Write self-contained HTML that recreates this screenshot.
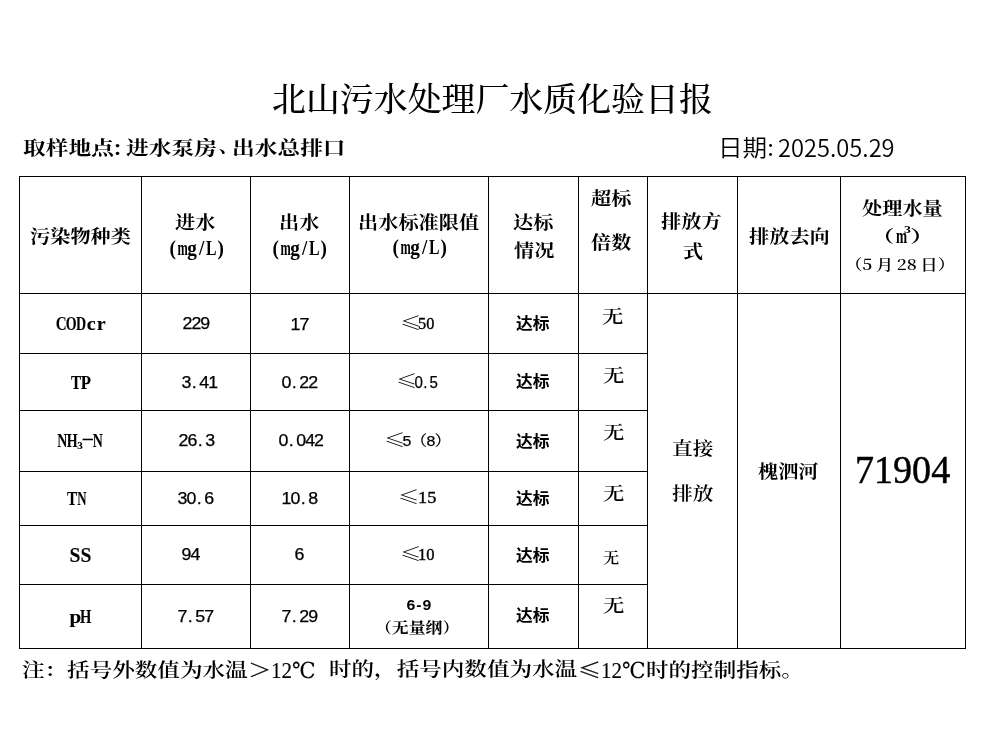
<!DOCTYPE html>
<html lang="zh-CN"><head><meta charset="utf-8"><title>北山污水处理厂水质化验日报</title><style>
*{margin:0;padding:0;box-sizing:border-box}
html,body{width:986px;height:735px;background:#fff;overflow:hidden}
body{position:relative;color:#000}
.t{position:absolute;white-space:nowrap;line-height:1;transform-origin:0 0}
.v{position:absolute;width:1px;background:#000}
.h{position:absolute;height:1px;background:#000}
sub{font-size:0.55em;vertical-align:-0.2em;line-height:0}
.dash{position:relative;top:-0.17em}
.mc{display:inline-flex;justify-content:center;width:0.5em}
.sq{display:inline-block;transform-origin:50% 50%}
.mp{display:inline-flex;justify-content:flex-start;width:0.5em;padding-left:0.05em}
</style></head><body>
<div class="v" style="left:19px;top:176px;height:473px"></div>
<div class="v" style="left:141px;top:176px;height:473px"></div>
<div class="v" style="left:250px;top:176px;height:473px"></div>
<div class="v" style="left:349px;top:176px;height:473px"></div>
<div class="v" style="left:488px;top:176px;height:473px"></div>
<div class="v" style="left:578px;top:176px;height:473px"></div>
<div class="v" style="left:647px;top:176px;height:473px"></div>
<div class="v" style="left:737px;top:176px;height:473px"></div>
<div class="v" style="left:840px;top:176px;height:473px"></div>
<div class="v" style="left:965px;top:176px;height:473px"></div>
<div class="h" style="left:19px;top:176px;width:947px"></div>
<div class="h" style="left:19px;top:293px;width:947px"></div>
<div class="h" style="left:19px;top:353px;width:629px"></div>
<div class="h" style="left:19px;top:410px;width:629px"></div>
<div class="h" style="left:19px;top:471px;width:629px"></div>
<div class="h" style="left:19px;top:525px;width:629px"></div>
<div class="h" style="left:19px;top:584px;width:629px"></div>
<div class="h" style="left:19px;top:648px;width:947px"></div>
<div class="t" style="left:272.00px;top:79.80px;font-family:'Noto Serif CJK SC', serif;font-weight:500;font-size:33.04px;transform:scale(1.0265,1.0000);">北山污水处理厂水质化验日报</div>
<div class="t" style="left:22.80px;top:138.35px;font-family:'Noto Serif CJK SC', serif;font-weight:700;font-size:19.41px;transform:scale(1.1704,1.0000);">取样地点:</div>
<div class="t" style="left:125.50px;top:138.35px;font-family:'Noto Serif CJK SC', serif;font-weight:700;font-size:19.41px;transform:scale(1.1704,1.0000);">进水泵房</div>
<div class="t" style="left:218.80px;top:135.06px;font-family:'Noto Serif CJK SC', serif;font-weight:700;font-size:19.40px;">、</div>
<div class="t" style="left:232.00px;top:138.35px;font-family:'Noto Serif CJK SC', serif;font-weight:700;font-size:19.41px;transform:scale(1.1704,1.0000);">出水总排口</div>
<div class="t" style="left:717.50px;top:134.95px;font-family:'Noto Sans CJK SC', sans-serif;font-weight:350;font-size:22.50px;transform:scale(1.0928,1.0000);">日期:</div>
<div class="t" style="left:778.00px;top:135.55px;font-family:'Noto Sans CJK SC', sans-serif;font-weight:350;font-size:23.69px;transform:scale(0.9984,1.0000);">2025.05.29</div>
<div class="t" style="left:29.90px;top:226.50px;font-family:'Noto Serif CJK SC', serif;font-weight:700;font-size:17.82px;transform:scale(1.1337,1.0000);">污染物种类</div>
<div class="t" style="left:175.40px;top:212.90px;font-family:'Noto Serif CJK SC', serif;font-weight:700;font-size:17.82px;transform:scale(1.1337,1.0000);">进水</div>
<div class="t" style="left:167.50px;top:237.80px;font-family:'Liberation Serif', 'Noto Serif CJK SC', serif;font-weight:700;font-size:20.40px;transform:scale(0.9416,1.0000);"><span class="mc">(</span><span class="mc"><span class="sq" style="transform:scaleX(0.643)">m</span></span><span class="mc">g</span><span class="mc">/</span><span class="mc"><span class="sq" style="transform:scaleX(0.819)">L</span></span><span class="mc">)</span></div>
<div class="t" style="left:279.30px;top:212.80px;font-family:'Noto Serif CJK SC', serif;font-weight:700;font-size:17.82px;transform:scale(1.1337,1.0000);">出水</div>
<div class="t" style="left:270.50px;top:237.80px;font-family:'Liberation Serif', 'Noto Serif CJK SC', serif;font-weight:700;font-size:20.40px;transform:scale(0.9416,1.0000);"><span class="mc">(</span><span class="mc"><span class="sq" style="transform:scaleX(0.643)">m</span></span><span class="mc">g</span><span class="mc">/</span><span class="mc"><span class="sq" style="transform:scaleX(0.819)">L</span></span><span class="mc">)</span></div>
<div class="t" style="left:358.40px;top:212.80px;font-family:'Noto Serif CJK SC', serif;font-weight:700;font-size:17.82px;transform:scale(1.1337,1.0000);">出水标准限值</div>
<div class="t" style="left:390.80px;top:237.20px;font-family:'Liberation Serif', 'Noto Serif CJK SC', serif;font-weight:700;font-size:20.40px;transform:scale(0.9416,1.0000);"><span class="mc">(</span><span class="mc"><span class="sq" style="transform:scaleX(0.643)">m</span></span><span class="mc">g</span><span class="mc">/</span><span class="mc"><span class="sq" style="transform:scaleX(0.819)">L</span></span><span class="mc">)</span></div>
<div class="t" style="left:513.00px;top:212.80px;font-family:'Noto Serif CJK SC', serif;font-weight:700;font-size:17.82px;transform:scale(1.1337,1.0000);">达标</div>
<div class="t" style="left:513.50px;top:241.20px;font-family:'Noto Serif CJK SC', serif;font-weight:700;font-size:17.82px;transform:scale(1.1337,1.0000);">情况</div>
<div class="t" style="left:591.40px;top:189.00px;font-family:'Noto Serif CJK SC', serif;font-weight:700;font-size:17.82px;transform:scale(1.1337,1.0000);">超标</div>
<div class="t" style="left:591.40px;top:233.00px;font-family:'Noto Serif CJK SC', serif;font-weight:700;font-size:17.82px;transform:scale(1.1337,1.0000);">倍数</div>
<div class="t" style="left:661.40px;top:212.40px;font-family:'Noto Serif CJK SC', serif;font-weight:700;font-size:17.82px;transform:scale(1.1337,1.0000);">排放方</div>
<div class="t" style="left:682.90px;top:241.60px;font-family:'Noto Serif CJK SC', serif;font-weight:700;font-size:17.82px;transform:scale(1.1337,1.0000);">式</div>
<div class="t" style="left:748.50px;top:226.80px;font-family:'Noto Serif CJK SC', serif;font-weight:700;font-size:17.82px;transform:scale(1.1337,1.0000);">排放去向</div>
<div class="t" style="left:862.10px;top:199.10px;font-family:'Noto Serif CJK SC', serif;font-weight:700;font-size:17.82px;transform:scale(1.1337,1.0000);">处理水量</div>
<div class="t" style="left:871.00px;top:227.60px;font-family:'Noto Serif CJK SC', serif;font-weight:700;font-size:16.84px;transform:scale(1.3866,1.0000);">（</div>
<div class="t" style="left:895.50px;top:226.10px;font-family:'Liberation Serif', 'Noto Serif CJK SC', serif;font-weight:700;font-size:20.00px;transform:scale(0.6682,1.0000);">m</div>
<div class="t" style="left:903.90px;top:225.10px;font-family:'Liberation Serif', 'Noto Serif CJK SC', serif;font-weight:700;font-size:9.63px;transform:scale(1.4370,1.0000);">3</div>
<div class="t" style="left:909.70px;top:227.60px;font-family:'Noto Serif CJK SC', serif;font-weight:700;font-size:16.84px;transform:scale(1.4826,1.0000);">）</div>
<div class="t" style="left:844.80px;top:256.10px;font-family:'Noto Serif CJK SC', serif;font-weight:600;font-size:14.99px;transform:scale(1.1586,1.0000);">（5 月 28 日）</div>
<div class="t" style="left:55.90px;top:313.60px;font-family:'Liberation Serif', 'Noto Serif CJK SC', serif;font-weight:700;font-size:19.21px;transform:scale(1.0499,1.0000);-webkit-text-stroke:0.1px #000;"><span class="mc"><span class="sq" style="transform:scaleX(0.750)">C</span></span><span class="mc"><span class="sq" style="transform:scaleX(0.692)">O</span></span><span class="mc"><span class="sq" style="transform:scaleX(0.692)">D</span></span><span class="mc">c</span><span class="mc">r</span></div>
<div class="t" style="left:72.30px;top:374.40px;font-family:'Liberation Serif', 'Noto Serif CJK SC', serif;font-weight:700;font-size:18.14px;transform:scale(1.0259,1.0000);-webkit-text-stroke:0.1px #000;"><span class="mc"><span class="sq" style="transform:scaleX(0.819)">T</span></span><span class="mc"><span class="sq" style="transform:scaleX(0.899)">P</span></span></div>
<div class="t" style="left:56.50px;top:431.47px;font-family:'Liberation Serif', 'Noto Serif CJK SC', serif;font-weight:700;font-size:19.30px;transform:scale(1.0458,1.0000);-webkit-text-stroke:0.1px #000;"><span class="mc"><span class="sq" style="transform:scaleX(0.692)">N</span></span><span class="mc"><span class="sq" style="transform:scaleX(0.692)">H</span></span><sub>3</sub><span class="dash">–</span><span class="mc"><span class="sq" style="transform:scaleX(0.692)">N</span></span></div>
<div class="t" style="left:68.10px;top:490.00px;font-family:'Liberation Serif', 'Noto Serif CJK SC', serif;font-weight:700;font-size:18.14px;transform:scale(1.0259,1.0000);-webkit-text-stroke:0.1px #000;"><span class="mc"><span class="sq" style="transform:scaleX(0.819)">T</span></span><span class="mc"><span class="sq" style="transform:scaleX(0.692)">N</span></span></div>
<div class="t" style="left:69.90px;top:546.00px;font-family:'Liberation Serif', 'Noto Serif CJK SC', serif;font-weight:700;font-size:19.97px;transform:scale(1.0951,1.0000);-webkit-text-stroke:0.1px #000;"><span class="mc"><span class="sq" style="transform:scaleX(0.899)">S</span></span><span class="mc"><span class="sq" style="transform:scaleX(0.899)">S</span></span></div>
<div class="t" style="left:69.90px;top:606.65px;font-family:'Liberation Serif', 'Noto Serif CJK SC', serif;font-weight:700;font-size:19.50px;transform:scale(1.0804,1.0000);-webkit-text-stroke:0.1px #000;"><span class="mc">p</span><span class="mc"><span class="sq" style="transform:scaleX(0.692)">H</span></span></div>
<div class="t" style="left:182.50px;top:315.80px;font-family:'Liberation Sans', 'Noto Serif CJK SC', sans-serif;font-weight:400;font-size:15.74px;transform:scale(1.1309,1.0000);-webkit-text-stroke:0.25px #000;"><span class="mc">2</span><span class="mc">2</span><span class="mc">9</span></div>
<div class="t" style="left:182.30px;top:374.90px;font-family:'Liberation Sans', 'Noto Serif CJK SC', sans-serif;font-weight:400;font-size:15.74px;transform:scale(1.1309,1.0000);-webkit-text-stroke:0.25px #000;"><span class="mc">3</span><span class="mp">.</span><span class="mc">4</span><span class="mc">1</span></div>
<div class="t" style="left:178.70px;top:433.00px;font-family:'Liberation Sans', 'Noto Serif CJK SC', sans-serif;font-weight:400;font-size:15.74px;transform:scale(1.1309,1.0000);-webkit-text-stroke:0.25px #000;"><span class="mc">2</span><span class="mc">6</span><span class="mp">.</span><span class="mc">3</span></div>
<div class="t" style="left:178.40px;top:490.80px;font-family:'Liberation Sans', 'Noto Serif CJK SC', sans-serif;font-weight:400;font-size:15.74px;transform:scale(1.1309,1.0000);-webkit-text-stroke:0.25px #000;"><span class="mc">3</span><span class="mc">0</span><span class="mp">.</span><span class="mc">6</span></div>
<div class="t" style="left:182.20px;top:547.20px;font-family:'Liberation Sans', 'Noto Serif CJK SC', sans-serif;font-weight:400;font-size:15.74px;transform:scale(1.1309,1.0000);-webkit-text-stroke:0.25px #000;"><span class="mc">9</span><span class="mc">4</span></div>
<div class="t" style="left:178.40px;top:608.70px;font-family:'Liberation Sans', 'Noto Serif CJK SC', sans-serif;font-weight:400;font-size:15.74px;transform:scale(1.1309,1.0000);-webkit-text-stroke:0.25px #000;"><span class="mc">7</span><span class="mp">.</span><span class="mc">5</span><span class="mc">7</span></div>
<div class="t" style="left:291.20px;top:316.70px;font-family:'Liberation Sans', 'Noto Serif CJK SC', sans-serif;font-weight:400;font-size:15.74px;transform:scale(1.1309,1.0000);-webkit-text-stroke:0.25px #000;"><span class="mc">1</span><span class="mc">7</span></div>
<div class="t" style="left:282.20px;top:374.90px;font-family:'Liberation Sans', 'Noto Serif CJK SC', sans-serif;font-weight:400;font-size:15.74px;transform:scale(1.1309,1.0000);-webkit-text-stroke:0.25px #000;"><span class="mc">0</span><span class="mp">.</span><span class="mc">2</span><span class="mc">2</span></div>
<div class="t" style="left:278.60px;top:433.00px;font-family:'Liberation Sans', 'Noto Serif CJK SC', sans-serif;font-weight:400;font-size:15.74px;transform:scale(1.1309,1.0000);-webkit-text-stroke:0.25px #000;"><span class="mc">0</span><span class="mp">.</span><span class="mc">0</span><span class="mc">4</span><span class="mc">2</span></div>
<div class="t" style="left:281.80px;top:490.80px;font-family:'Liberation Sans', 'Noto Serif CJK SC', sans-serif;font-weight:400;font-size:15.74px;transform:scale(1.1309,1.0000);-webkit-text-stroke:0.25px #000;"><span class="mc">1</span><span class="mc">0</span><span class="mp">.</span><span class="mc">8</span></div>
<div class="t" style="left:295.00px;top:547.20px;font-family:'Liberation Sans', 'Noto Serif CJK SC', sans-serif;font-weight:400;font-size:15.74px;transform:scale(1.1309,1.0000);-webkit-text-stroke:0.25px #000;"><span class="mc">6</span></div>
<div class="t" style="left:282.30px;top:608.70px;font-family:'Liberation Sans', 'Noto Serif CJK SC', sans-serif;font-weight:400;font-size:15.74px;transform:scale(1.1309,1.0000);-webkit-text-stroke:0.25px #000;"><span class="mc">7</span><span class="mp">.</span><span class="mc">2</span><span class="mc">9</span></div>
<div class="t" style="left:399.90px;top:313.00px;font-family:'Noto Serif CJK SC', serif;font-weight:400;font-size:18.37px;transform:scale(1.1621,1.0000);">≤</div>
<div class="t" style="left:417.90px;top:315.70px;font-family:'Liberation Serif', 'Noto Serif CJK SC', serif;font-weight:400;font-size:16.75px;transform:scale(0.9757,1.0000);-webkit-text-stroke:0.4px #000;">50</div>
<div class="t" style="left:396.00px;top:371.00px;font-family:'Noto Serif CJK SC', serif;font-weight:400;font-size:18.37px;transform:scale(1.1621,1.0000);">≤</div>
<div class="t" style="left:415.00px;top:373.70px;font-family:'Liberation Sans', 'Noto Serif CJK SC', sans-serif;font-weight:400;font-size:17.03px;transform:scale(0.8854,1.0000);-webkit-text-stroke:0.25px #000;"><span class="mc">0</span><span class="mp">.</span><span class="mc">5</span></div>
<div class="t" style="left:383.50px;top:429.80px;font-family:'Noto Serif CJK SC', serif;font-weight:400;font-size:18.37px;transform:scale(1.1621,1.0000);">≤</div>
<div class="t" style="left:403.00px;top:433.60px;font-family:'Liberation Sans', 'Noto Serif CJK SC', sans-serif;font-weight:400;font-size:14.64px;transform:scale(1.0890,1.0000);-webkit-text-stroke:0.25px #000;"><span class="mc">5</span>（<span class="mc">8</span>）</div>
<div class="t" style="left:398.00px;top:486.60px;font-family:'Noto Serif CJK SC', serif;font-weight:400;font-size:18.37px;transform:scale(1.1621,1.0000);">≤</div>
<div class="t" style="left:418.20px;top:488.90px;font-family:'Liberation Serif', 'Noto Serif CJK SC', serif;font-weight:400;font-size:17.48px;transform:scale(1.0483,1.0000);-webkit-text-stroke:0.4px #000;">15</div>
<div class="t" style="left:399.90px;top:544.00px;font-family:'Noto Serif CJK SC', serif;font-weight:400;font-size:18.37px;transform:scale(1.1621,1.0000);">≤</div>
<div class="t" style="left:418.40px;top:546.60px;font-family:'Liberation Serif', 'Noto Serif CJK SC', serif;font-weight:400;font-size:16.51px;transform:scale(1.0012,1.0000);-webkit-text-stroke:0.4px #000;">10</div>
<div class="t" style="left:407.30px;top:596.90px;font-family:'Liberation Sans', 'Noto Serif CJK SC', sans-serif;font-weight:700;font-size:15.23px;transform:scale(1.0428,1.0000);"><span class="mc">6</span><span class="mc">-</span><span class="mc">9</span></div>
<div class="t" style="left:374.80px;top:618.70px;font-family:'Noto Serif CJK SC', serif;font-weight:700;font-size:15.10px;transform:scale(1.1179,1.0000);">（无量纲）</div>
<div class="t" style="left:515.60px;top:315.20px;font-family:'Noto Sans CJK SC', sans-serif;font-weight:700;font-size:15.83px;transform:scale(1.0572,1.0000);">达标</div>
<div class="t" style="left:515.60px;top:373.20px;font-family:'Noto Sans CJK SC', sans-serif;font-weight:700;font-size:15.83px;transform:scale(1.0572,1.0000);">达标</div>
<div class="t" style="left:515.60px;top:432.70px;font-family:'Noto Sans CJK SC', sans-serif;font-weight:700;font-size:15.83px;transform:scale(1.0572,1.0000);">达标</div>
<div class="t" style="left:515.60px;top:490.20px;font-family:'Noto Sans CJK SC', sans-serif;font-weight:700;font-size:15.83px;transform:scale(1.0572,1.0000);">达标</div>
<div class="t" style="left:515.60px;top:546.60px;font-family:'Noto Sans CJK SC', sans-serif;font-weight:700;font-size:15.83px;transform:scale(1.0572,1.0000);">达标</div>
<div class="t" style="left:515.60px;top:607.00px;font-family:'Noto Sans CJK SC', sans-serif;font-weight:700;font-size:15.83px;transform:scale(1.0572,1.0000);">达标</div>
<div class="t" style="left:601.80px;top:305.60px;font-family:'Noto Serif CJK SC', serif;font-weight:600;font-size:18.71px;transform:scale(1.1417,1.0000);">无</div>
<div class="t" style="left:602.50px;top:364.80px;font-family:'Noto Serif CJK SC', serif;font-weight:600;font-size:18.71px;transform:scale(1.1417,1.0000);">无</div>
<div class="t" style="left:602.50px;top:422.40px;font-family:'Noto Serif CJK SC', serif;font-weight:600;font-size:18.71px;transform:scale(1.1417,1.0000);">无</div>
<div class="t" style="left:602.50px;top:482.80px;font-family:'Noto Serif CJK SC', serif;font-weight:600;font-size:18.71px;transform:scale(1.1417,1.0000);">无</div>
<div class="t" style="left:603.00px;top:550.40px;font-family:'Noto Serif CJK SC', serif;font-weight:600;font-size:14.64px;transform:scale(1.1110,1.0000);">无</div>
<div class="t" style="left:602.50px;top:595.00px;font-family:'Noto Serif CJK SC', serif;font-weight:600;font-size:18.71px;transform:scale(1.1417,1.0000);">无</div>
<div class="t" style="left:672.10px;top:438.30px;font-family:'Noto Serif CJK SC', serif;font-weight:600;font-size:18.00px;transform:scale(1.1506,1.0000);">直接</div>
<div class="t" style="left:671.60px;top:483.10px;font-family:'Noto Serif CJK SC', serif;font-weight:600;font-size:18.00px;transform:scale(1.1506,1.0000);">排放</div>
<div class="t" style="left:757.50px;top:461.90px;font-family:'Noto Serif CJK SC', serif;font-weight:700;font-size:17.82px;transform:scale(1.1301,1.0000);">槐泗河</div>
<div class="t" style="left:854.50px;top:450.70px;font-family:'Liberation Serif', 'Noto Serif CJK SC', serif;font-weight:400;font-size:39.71px;transform:scale(0.9587,1.0000);-webkit-text-stroke:0.5px #000;">71904</div>
<div class="t" style="left:22.10px;top:660.23px;font-family:'Noto Serif CJK SC', serif;font-weight:600;font-size:18.83px;transform:scale(1.1983,1.0000);">注：括号外数值为水温</div>
<div class="t" style="left:248.00px;top:659.83px;font-family:'Noto Serif CJK SC', serif;font-weight:600;font-size:18.97px;transform:scale(1.2395,1.0000);-webkit-text-stroke:0.3px #000;">＞</div>
<div class="t" style="left:271.20px;top:659.73px;font-family:'Liberation Serif', 'DejaVu Serif', serif;font-weight:400;font-size:22.03px;transform:scale(0.9577,1.0000);-webkit-text-stroke:0.12px #000;">12℃</div>
<div class="t" style="left:328.90px;top:659.23px;font-family:'Noto Serif CJK SC', serif;font-weight:600;font-size:18.83px;transform:scale(1.1983,1.0000);">时的，括号内数值为水温</div>
<div class="t" style="left:578.00px;top:659.43px;font-family:'Noto Serif CJK SC', serif;font-weight:600;font-size:20.44px;transform:scale(1.1260,1.0000);-webkit-text-stroke:0.3px #000;">≤</div>
<div class="t" style="left:601.30px;top:659.73px;font-family:'Liberation Serif', 'DejaVu Serif', serif;font-weight:400;font-size:22.03px;transform:scale(0.9577,1.0000);-webkit-text-stroke:0.12px #000;">12℃</div>
<div class="t" style="left:646.00px;top:660.23px;font-family:'Noto Serif CJK SC', serif;font-weight:600;font-size:18.83px;transform:scale(1.1983,1.0000);">时的控制指标。</div>
</body></html>
